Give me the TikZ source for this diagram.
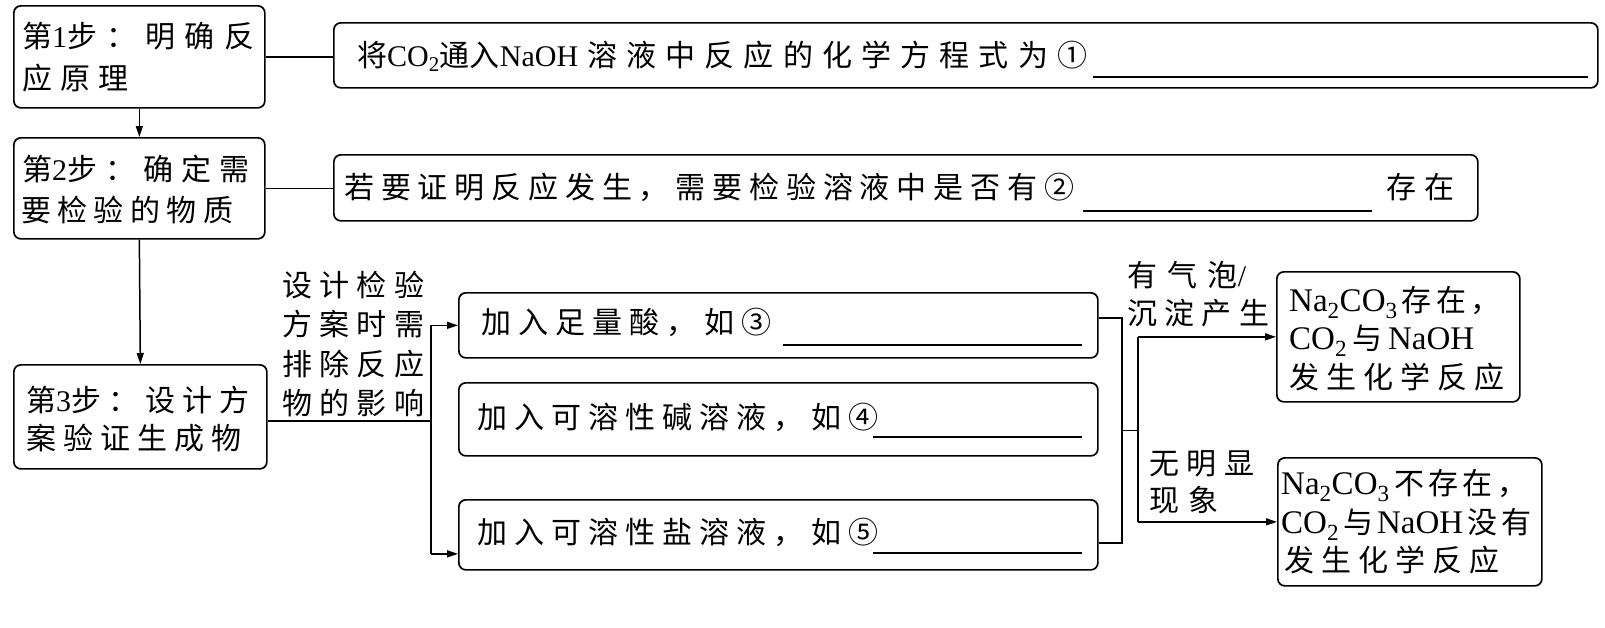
\documentclass[tikz,border=0pt]{standalone}
\usepackage{fontspec}
\setmainfont{Noto Sans CJK SC}
\newfontfamily\latf[Scale=1.0]{Liberation Serif}
\usetikzlibrary{arrows.meta,calc}
\newcommand\ltn[1]{{\latf #1}}
\newcommand\ltnB[1]{{\latf\fontsize{33}{38}\selectfont #1}}
\makeatletter
\newcommand\spreadtxt[2]{\makebox[#1][l]{\@tempswafalse\@tfor\sp@ch:=#2\do{\if@tempswa\hfill\fi\@tempswatrue\sp@ch}}}
\makeatother
\begin{document}
\begin{tikzpicture}[x=1pt,y=-1pt,
  box/.style={draw=black, line width=1.7pt, rounded corners=7pt, anchor=north west, inner sep=0pt},
  txt/.style={anchor=west, inner sep=0pt, font=\fontsize{30}{34}\selectfont, text height=26.4pt, text depth=3.6pt},
  conn/.style={line width=1.5pt},
  arr/.style={line width=1.5pt, -{Triangle[length=11pt,width=7pt]}},
  blank/.style={line width=1.5pt}]
\fill[white] (0,0) rectangle (1605,627);
\useasboundingbox (0,0) rectangle (1605,627);

% boxes
\node[box, minimum width=251pt, minimum height=102pt] (s1) at (13,5) {};
\node[box, minimum width=251pt, minimum height=101pt] (s2) at (13,137) {};
\node[box, minimum width=253pt, minimum height=104pt] (s3) at (13,364) {};
\node[box, minimum width=1264pt, minimum height=65pt] (A) at (333,22) {};
\node[box, minimum width=1144pt, minimum height=66pt] (B) at (333,154) {};
\node[box, minimum width=639pt, minimum height=65pt] (C) at (458,292) {};
\node[box, minimum width=639pt, minimum height=73pt] (D) at (458,382) {};
\node[box, minimum width=639pt, minimum height=70pt] (E) at (458,499) {};
\node[box, minimum width=243pt, minimum height=130pt] (F) at (1276,271) {};
\node[box, minimum width=264pt, minimum height=128pt] (G) at (1277,457) {};

% texts in step boxes
\node[txt] (s1a) at (22,36) {\spreadtxt{232pt}{{第\ltn{1}步}：明确反}};
\node[txt] (s1b) at (22,78) {\spreadtxt{106pt}{应原理}};
\node[txt] (s2a) at (22,169) {\spreadtxt{227pt}{{第\ltn{2}步}：确定需}};
\node[txt] (s2b) at (21,210) {\spreadtxt{212pt}{要检验的物质}};
\node[txt] (s3a) at (26,400) {\spreadtxt{223pt}{{第\ltn{3}步}：设计方}};
\node[txt] (s3b) at (26,438) {\spreadtxt{215pt}{案验证生成物}};

% A and B
\node[txt] (ta) at (357,55) {\spreadtxt{730pt}{{将\ltn{CO\textsubscript{2}}通入\ltn{NaOH}}溶液中反应的化学方程式为①}};
\draw[blank] (1093,77) -- (1588,77);
\node[txt] (tb) at (344,187) {\spreadtxt{730pt}{若要证明反应发生，需要检验溶液中是否有②}};
\draw[blank] (1083,211) -- (1372,211);
\node[txt] (tb2) at (1386,187) {\spreadtxt{68pt}{存在}};

% C D E
\node[txt] (tc) at (481,322) {\spreadtxt{290pt}{加入足量酸，如③}};
\draw[blank] (783,345) -- (1082,345);
\node[txt] (td) at (477,417) {\spreadtxt{401pt}{加入可溶性碱溶液，如④}};
\draw[blank] (873,437) -- (1082,437);
\node[txt] (te) at (477,532) {\spreadtxt{401pt}{加入可溶性盐溶液，如⑤}};
\draw[blank] (873,553) -- (1082,553);

% left label
\node[txt] (l1) at (282,285) {\spreadtxt{142pt}{设计检验}};
\node[txt] (l2) at (282,324.5) {\spreadtxt{142pt}{方案时需}};
\node[txt] (l3) at (282,364) {\spreadtxt{142pt}{排除反应}};
\node[txt] (l4) at (282,403) {\spreadtxt{142pt}{物的影响}};

% right labels
\node[txt] (r1) at (1127,275) {\spreadtxt{119pt}{有气{泡\ltn{/}}}};
\node[txt] (r2) at (1127,313) {\spreadtxt{142pt}{沉淀产生}};
\node[txt] (r3) at (1149,463) {\spreadtxt{105pt}{无明显}};
\node[txt] (r4) at (1149,500) {\spreadtxt{69pt}{现象}};

% F and G texts
\node[txt] (f1) at (1289,300) {\spreadtxt{211pt}{{\ltnB{Na\textsubscript{2}CO\textsubscript{3}}}存在，}};
\node[txt] (f2) at (1289,338) {\spreadtxt{185pt}{{\ltnB{CO\textsubscript{2}}}与{\ltnB{NaOH}}}};
\node[txt] (f3) at (1289,377) {\spreadtxt{215pt}{发生化学反应}};
\node[txt] (g1) at (1281,483) {\spreadtxt{246pt}{{\ltnB{Na\textsubscript{2}CO\textsubscript{3}}}不存在，}};
\node[txt] (g2) at (1281,522) {\spreadtxt{250pt}{{\ltnB{CO\textsubscript{2}}}与{\ltnB{NaOH}}没有}};
\node[txt] (g3) at (1284,560) {\spreadtxt{215pt}{发生化学反应}};

% connectors
\draw[conn] (s1.east) -- (s1.east -| A.west);
\draw[conn] (s2.east) -- (s2.east -| B.west);
\draw[arr] (s1.south) -- (s2.north);
\draw[arr] (s2.south) -- (s3.north);

\coordinate (br) at (431,420);
\coordinate (s3out) at ([yshift=-4pt]s3.east);
\coordinate (eIn) at ([yshift=-19pt]E.west);
\draw[conn] (s3out) -- (s3out -| br);
\draw[conn] (br |- C.west) -- (br |- eIn);
\draw[arr] (br |- C.west) -- (C.west);
\draw[arr] (br |- eIn) -- (eIn);

\coordinate (cOut) at ([yshift=7.5pt]C.east);
\coordinate (eOut) at ([yshift=-8pt]E.east);
\coordinate (rb1) at (1122,0);
\coordinate (rb2) at (1138,0);
\draw[conn] (cOut) -- (cOut -| rb1) -- (eOut -| rb1) -- (eOut);
\coordinate (mid) at ($(cOut -| rb1)!0.5!(eOut -| rb1)$);
\draw[conn] (mid) -- (mid -| rb2);
\draw[conn] (rb2 |- F.west) -- (rb2 |- G.west);
\draw[arr] (rb2 |- F.west) -- (F.west);
\draw[arr] (rb2 |- G.west) -- (G.west);
\end{tikzpicture}
\end{document}
